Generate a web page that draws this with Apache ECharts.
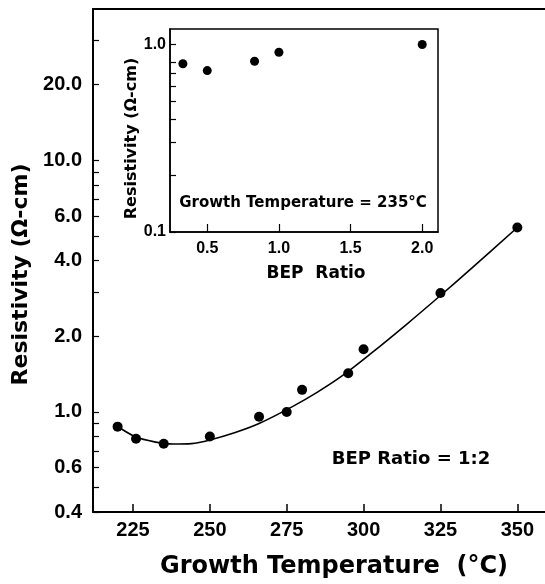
<!DOCTYPE html>
<html>
<head>
<meta charset="utf-8">
<title>Resistivity vs Growth Temperature</title>
<script src="https://cdn.jsdelivr.net/npm/echarts@6/dist/echarts.min.js"></script>
<style>
    html, body { margin: 0; padding: 0; background: #fff; }
    #echarts_dom_id { width: 545px; height: 584px; }
</style>
</head>
<body>
<div id="echarts_dom_id"></div>
<script>
// 主图: resistivity vs growth temperature (BEP ratio 1:2)
var aTemp_vob = [220, 226, 235, 250, 266, 275, 280, 295, 300, 325, 350];
var aRes_vob = [0.874, 0.782, 0.747, 0.798, 0.956, 1.0, 1.224, 1.424, 1.776, 2.97, 5.41];
// fitted curve
var aFitTemp_vob = [220, 226, 232, 238, 244, 250, 258, 266, 277, 285, 293, 302, 314, 325, 335, 350];
var aFitRes_vob = [0.875, 0.794, 0.760, 0.745, 0.748, 0.773, 0.826, 0.899, 1.052, 1.199, 1.39, 1.692, 2.231, 2.903, 3.715, 5.41];
// inset: resistivity vs BEP ratio (235 C)
var aRatio_vob = [0.33, 0.5, 0.83, 1.0, 2.0];
var aRatioRes_vob = [0.79, 0.726, 0.814, 0.91, 1.0];
// ticks
var aTempTicks_vob = [225, 250, 275, 300, 325, 350];
var aResLabels_vob = [0.4, 0.6, 1, 2, 4, 6, 10, 20];
var aResTicks_vob = [0.4, 0.5, 0.6, 0.7, 0.8, 0.9, 1, 2, 3, 4, 5, 6, 7, 8, 9, 10, 20, 30];
var aRatioTicks_vob = [0.5, 1.0, 1.5, 2.0];
var aInsetLabels_vob = [0.1, 1];
var aInsetTicks_vob = [0.1, 0.2, 0.3, 0.4, 0.5, 0.6, 0.7, 0.8, 1];

var fnZip_fob = function (aX, aY) {
    var aOut = [];
    for (var i = 0; i < aX.length; i++) {
        aOut.push([aX[i], aY[i]]);
    }
    return aOut;
};
var fnFixed_fob = function (v) {
    return Number(v).toFixed(1);
};

var sLab_vob = 'Liberation Sans';
var sName_vob = 'DejaVu Sans';

var myChart = echarts.init(document.getElementById('echarts_dom_id'), null, { renderer: 'canvas' });
var option = {
    animation: false,
    backgroundColor: '#fff',
    textStyle: { fontFamily: sLab_vob, color: '#000' },
    grid: [
        { left: 93, right: 0, top: 9, bottom: 72 },
        { left: 170, top: 29, width: 268, height: 203, show: true, backgroundColor: '#fff', borderColor: '#000', borderWidth: 1.5 }
    ],
    xAxis: [{
        gridIndex: 0,
        type: 'value',
        min: 212,
        max: 359,
        name: 'Growth Temperature  (\u00b0C)',
        nameLocation: 'middle',
        nameGap: 43,
        nameTextStyle: { fontFamily: sName_vob, fontWeight: 'bold', fontSize: 24, color: '#000', padding: [0, 0, 0, 30] },
        axisLine: { onZero: false, lineStyle: { color: '#000', width: 2 } },
        axisTick: { inside: true, length: 8, customValues: aTempTicks_vob, lineStyle: { color: '#000', width: 1.5 } },
        axisLabel: { customValues: aTempTicks_vob, margin: 8, fontSize: 20, fontWeight: 'bold', color: '#000' },
        splitLine: { show: false }
    }, {
        // top frame line
        gridIndex: 0,
        type: 'value',
        position: 'top',
        min: 212,
        max: 359,
        axisLine: { onZero: false, lineStyle: { color: '#000', width: 2 } },
        axisTick: { show: false },
        axisLabel: { show: false },
        splitLine: { show: false }
    }, {
        gridIndex: 1,
        type: 'value',
        min: 0.24,
        max: 2.11,
        name: 'BEP  Ratio',
        nameLocation: 'middle',
        nameGap: 33,
        nameTextStyle: { fontFamily: sName_vob, fontWeight: 'bold', fontSize: 17, color: '#000', padding: [0, 0, 0, 24] },
        axisLine: { onZero: false, lineStyle: { color: '#000', width: 1.5 } },
        axisTick: { inside: true, length: 8, customValues: aRatioTicks_vob, lineStyle: { color: '#000', width: 1.2 } },
        axisLabel: { customValues: aRatioTicks_vob, formatter: fnFixed_fob, margin: 9, fontSize: 16, fontWeight: 'bold', color: '#000' },
        splitLine: { show: false }
    }],
    yAxis: [{
        gridIndex: 0,
        type: 'log',
        min: 0.4,
        max: 40,
        name: 'Resistivity (\u03a9-cm)',
        nameLocation: 'middle',
        nameGap: 55,
        nameTextStyle: { fontFamily: sName_vob, fontWeight: 'bold', fontSize: 22, color: '#000', padding: [0, 28, 0, 0] },
        axisLine: { onZero: false, lineStyle: { color: '#000', width: 2 } },
        axisTick: { inside: true, length: 6, customValues: aResTicks_vob, lineStyle: { color: '#000', width: 1.2 } },
        axisLabel: { customValues: aResLabels_vob, formatter: fnFixed_fob, margin: 11, fontSize: 20, fontWeight: 'bold', color: '#000' },
        splitLine: { show: false }
    }, {
        gridIndex: 1,
        type: 'log',
        min: 0.1,
        max: 1.21,
        name: 'Resistivity (\u03a9-cm)',
        nameLocation: 'middle',
        nameGap: 28,
        nameTextStyle: { fontFamily: sName_vob, fontWeight: 'bold', fontSize: 16, color: '#000', padding: [0, 16, 0, 0] },
        axisLine: { onZero: false, lineStyle: { color: '#000', width: 1.5 } },
        axisTick: { inside: true, length: 6, customValues: aInsetTicks_vob, lineStyle: { color: '#000', width: 1.2 } },
        axisLabel: { customValues: aInsetLabels_vob, formatter: fnFixed_fob, margin: 4, fontSize: 16, fontWeight: 'bold', color: '#000' },
        splitLine: { show: false }
    }],
    graphic: [{
        type: 'text',
        x: 411,
        y: 459,
        style: { text: 'BEP Ratio = 1:2', fontFamily: sName_vob, fontWeight: 'bold', fontSize: 18, fill: '#000', align: 'center', verticalAlign: 'middle' }
    }, {
        type: 'text',
        x: 303,
        y: 203,
        z: 100,
        style: { text: 'Growth Temperature = 235\u00b0C', fontFamily: sName_vob, fontWeight: 'bold', fontSize: 15, fill: '#000', align: 'center', verticalAlign: 'middle' }
    }],
    series: [{
        type: 'line',
        xAxisIndex: 0,
        yAxisIndex: 0,
        data: fnZip_fob(aFitTemp_vob, aFitRes_vob),
        smooth: 0.3,
        showSymbol: false,
        lineStyle: { color: '#000', width: 1.6 }
    }, {
        type: 'scatter',
        xAxisIndex: 0,
        yAxisIndex: 0,
        data: fnZip_fob(aTemp_vob, aRes_vob),
        symbolSize: 10,
        itemStyle: { color: '#000', opacity: 1 }
    }, {
        type: 'scatter',
        xAxisIndex: 2,
        yAxisIndex: 1,
        data: fnZip_fob(aRatio_vob, aRatioRes_vob),
        symbolSize: 9,
        itemStyle: { color: '#000', opacity: 1 }
    }]
};
myChart.setOption(option);
</script>
</body>
</html>
